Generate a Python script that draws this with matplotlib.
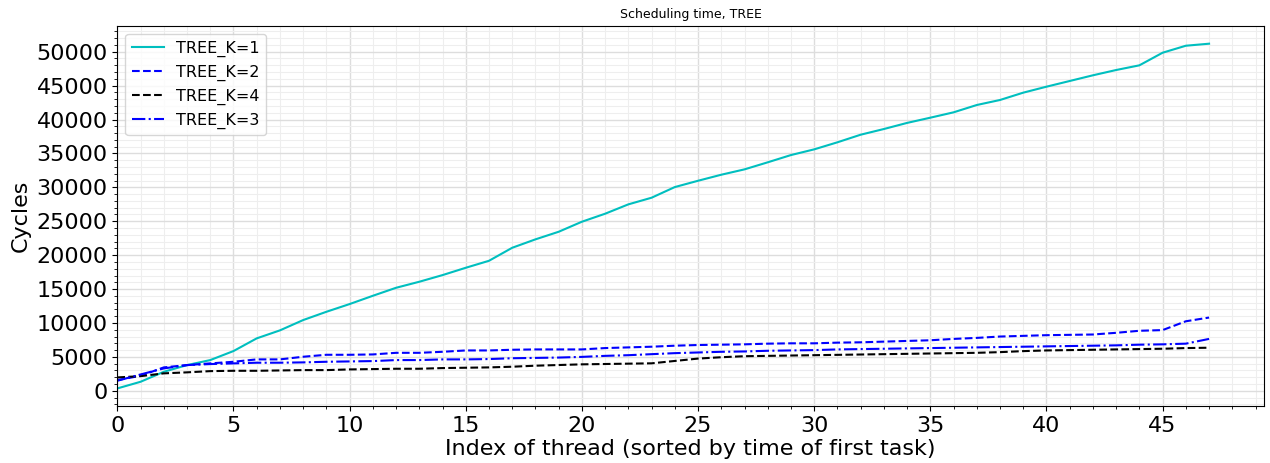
import matplotlib
matplotlib.use("Agg")
import matplotlib.pyplot as plt
from matplotlib.ticker import MultipleLocator

threads = list(range(48))

k1 = [350, 1330, 2800, 3790, 4530, 5860, 7730, 8910, 10430, 11650,
      12790, 14010, 15190, 16080, 17060, 18140, 19170, 21090, 22330, 23450,
      24930, 26110, 27490, 28470, 30040, 30970, 31860, 32650, 33690, 34760,
      35600, 36640, 37760, 38600, 39500, 40270, 41060, 42140, 42880, 43960,
      44840, 45680, 46520, 47300, 47990, 49850, 50880, 51180]

k2 = [1580, 2210, 3450, 3790, 4040, 4280, 4630, 4630, 5020, 5310,
      5310, 5360, 5600, 5600, 5750, 5950, 5950, 6050, 6100, 6100,
      6100, 6300, 6400, 6500, 6650, 6750, 6800, 6850, 6950, 7000,
      7000, 7100, 7150, 7250, 7350, 7450, 7650, 7800, 8000, 8100,
      8200, 8250, 8300, 8550, 8850, 8950, 10250, 10800]

k4 = [1970, 2160, 2570, 2720, 2900, 2950, 2950, 3000, 3050, 3050,
      3150, 3200, 3250, 3250, 3350, 3400, 3450, 3550, 3700, 3800,
      3900, 3950, 4000, 4050, 4400, 4750, 4950, 5100, 5150, 5200,
      5250, 5300, 5350, 5400, 5450, 5500, 5550, 5600, 5700, 5850,
      5950, 6000, 6050, 6100, 6150, 6200, 6300, 6350]

k3 = [1480, 2410, 3300, 3790, 3940, 4040, 4140, 4140, 4190, 4280,
      4330, 4380, 4530, 4530, 4630, 4630, 4680, 4800, 4850, 4900,
      5000, 5150, 5250, 5400, 5550, 5650, 5750, 5800, 5900, 5950,
      6000, 6100, 6150, 6200, 6250, 6300, 6350, 6400, 6450, 6500,
      6550, 6600, 6650, 6700, 6800, 6850, 6950, 7650]

labels = ["TREE_K=1", "TREE_K=2", "TREE_K=4", "TREE_K=3"]

fig = plt.figure(figsize=(12.7, 4.63), dpi=100)
ax = fig.add_axes([0.0924, 0.123, 0.9026, 0.821])

ax.plot(threads, k1, color="c", linestyle="-", linewidth=1.5, label=labels[0])
ax.plot(threads, k2, color="b", linestyle="--", linewidth=1.5, label=labels[1])
ax.plot(threads, k4, color="k", linestyle="--", linewidth=1.5, label=labels[2])
ax.plot(threads, k3, color="b", linestyle="-.", linewidth=1.5, label=labels[3])

ax.set_xlim(0, 49.35)
ax.set_ylim(-2250, 53800)

ax.xaxis.set_major_locator(MultipleLocator(5))
ax.xaxis.set_minor_locator(MultipleLocator(1))
ax.yaxis.set_major_locator(MultipleLocator(5000))
ax.yaxis.set_minor_locator(MultipleLocator(1000))

ax.grid(which="major", color="#dddddd", linewidth=1.0)
ax.grid(which="minor", color="#eeeeee", linewidth=0.8)
ax.set_axisbelow(True)

ax.tick_params(axis="both", which="major", labelsize=16)
ax.set_xlabel("Index of thread (sorted by time of first task)", fontsize=16, labelpad=2)
ax.set_ylabel("Cycles", fontsize=16, labelpad=4)
ax.set_title("Scheduling time, TREE", fontsize=9)

ax.legend(loc="upper left", fontsize=11.5, framealpha=0.8)

fig.savefig("out.png", dpi=100)
